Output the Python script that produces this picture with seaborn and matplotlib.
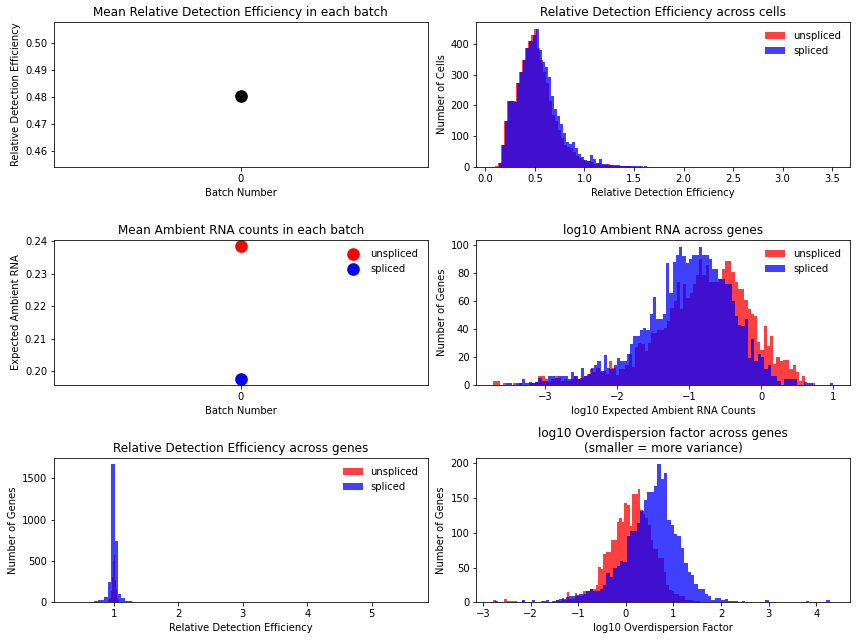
import numpy as np
import pandas as pd
import matplotlib
matplotlib.use("Agg")
import matplotlib.pyplot as plt
import seaborn as sns

# ---- batch means ----
batch_ids = [0]
batch_detection_eff = [0.4805]
batch_ambient_unspliced = [0.2385]
batch_ambient_spliced = [0.1975]

# ---- histograms: left edge of first bin, bin width, counts per bin ----
# relative detection efficiency across cells
cell_u_start, cell_u_width = 0.0945, 0.0305
cell_u = [3, 13, 70, 149, 214, 214, 214, 274, 309, 348, 387, 410, 429, 448, 387,
          348, 309, 274, 214, 170, 149, 120, 95, 72, 66, 62, 48, 36, 28, 22, 18,
          20, 15, 10, 13, 8, 6, 9, 5, 4, 3, 3, 2, 2, 2, 1, 1, 1, 2, 1, 0, 1]
cell_s_start, cell_s_width = 0.14, 0.0305
cell_s = [13, 70, 149, 214, 214, 212, 274, 309, 348, 387, 410, 429, 448, 380, 341,
          323, 293, 230, 189, 165, 141, 111, 80, 74, 80, 61, 41, 33, 22, 20, 38,
          26, 13, 27, 9, 9, 8, 8, 6, 5, 4, 4, 3, 2, 2, 2, 2, 1, 2, 1, 1, 1]

# log10 ambient RNA across genes
amb_u_start, amb_u_width = -3.72, 0.0447
amb_u = [3, 3, 0, 1, 0, 0, 1, 0, 1, 0,
         0, 1, 1, 2, 6, 6, 4, 2, 4, 6,
         5, 3, 4, 3, 4, 6, 4, 5, 6, 8,
         11, 9, 12, 9, 10, 8, 17, 12, 7, 11,
         11, 14, 22, 13, 27, 30, 29, 24, 30, 37,
         37, 39, 39, 41, 46, 55, 60, 74, 54, 72,
         62, 66, 72, 79, 90, 79, 86, 74, 74, 74,
         76, 83, 89, 89, 81, 74, 69, 69, 61, 54,
         51, 49, 31, 25, 42, 28, 35, 15, 20, 17,
         18, 18, 11, 14, 9, 3, 6, 0, 0, 1]
amb_s_start, amb_s_width = -3.55, 0.0455
amb_s = [1, 1, 0, 1, 1, 4, 1, 2, 1, 2,
         5, 3, 3, 6, 6, 5, 6, 6, 6, 4,
         9, 6, 4, 12, 6, 8, 12, 14, 17, 10,
         21, 12, 11, 14, 19, 17, 17, 22, 29, 35,
         35, 39, 41, 39, 51, 63, 47, 47, 51, 87,
         66, 88, 93, 99, 92, 87, 90, 93, 93, 99,
         93, 93, 90, 83, 83, 76, 76, 72, 72, 60,
         49, 43, 42, 47, 19, 33, 17, 22, 20, 11,
         14, 6, 6, 3, 0, 4, 4, 4, 4, 0,
         0, 2, 1, 1, 0, 0, 0, 0, 0, 1]

# relative detection efficiency across genes
gene_u_start, gene_u_width = 0.91, 0.0085
gene_u = [25, 30, 40, 60, 90, 140, 220, 310, 400, 500, 810, 570, 420, 270, 160,
          95, 60, 40, 25, 15]
gene_s_start, gene_s_width = 0.32, 0.0528
gene_s = [0, 0, 0, 0, 0, 0, 12, 16, 28, 28, 69, 250, 1670, 745, 101, 53, 16, 14,
          12, 12, 10, 10, 10]

# log10 overdispersion across genes
od_u_start, od_u_width = -2.78, 0.055
od_u = [3, 1, 1, 0, 5, 2, 2, 2, 2, 1,
        1, 2, 1, 0, 1, 1, 1, 1, 2, 1,
        1, 0, 1, 1, 4, 2, 6, 4, 15, 5,
        5, 14, 9, 9, 17, 17, 17, 19, 19, 25,
        51, 48, 70, 73, 73, 90, 90, 116, 121, 115,
        143, 140, 110, 155, 155, 163, 132, 127, 121, 111,
        90, 76, 76, 64, 64, 44, 25, 18, 16, 12,
        12, 10, 10, 4, 4, 4, 2, 2, 2, 1,
        1, 0, 1, 1, 1, 0, 1, 1, 0, 1,
        1, 0, 1, 0, 1, 0, 1, 1]
od_s_start, od_s_width = -2.75, 0.071
od_s = [2, 1, 1, 1, 0, 1, 1, 1, 4, 1,
        1, 4, 1, 1, 2, 4, 1, 2, 3, 5,
        5, 8, 10, 10, 11, 12, 12, 16, 19, 16,
        16, 19, 25, 42, 37, 49, 52, 59, 58, 95,
        102, 102, 114, 131, 147, 159, 159, 167, 198, 177,
        186, 119, 111, 98, 95, 78, 56, 44, 40, 27,
        19, 19, 12, 9, 4, 7, 7, 3, 5, 2,
        2, 2, 1, 2, 1, 0, 1, 1, 0, 1,
        4, 0, 0, 1, 0, 0, 0, 0, 0, 0,
        0, 0, 2, 0, 0, 0, 0, 0, 3, 1]


def hist_counts(ax, start, width, counts, color, label):
    '''draw a pre-binned histogram with seaborn'''
    edges = start + width * np.arange(len(counts) + 1)
    df = pd.DataFrame({'x': (edges[:-1] + edges[1:]) / 2,
                       'n': np.asarray(counts, dtype=float)})
    sns.histplot(data=df, x='x', weights='n', bins=edges.tolist(), color=color,
                 alpha=0.75, linewidth=0, edgecolor='none', label=label, ax=ax)


fig, axes = plt.subplots(3, 2, figsize=(856 / 72, 640 / 72), dpi=72)
fig.subplots_adjust(left=0.0631, right=0.993, top=0.9656, bottom=0.0586,
                    wspace=0.131, hspace=0.502)

# mean detection efficiency per batch
ax = axes[0, 0]
sns.scatterplot(x=batch_ids, y=batch_detection_eff, color='k', s=160,
                linewidth=0, ax=ax)
ax.set_xlim(-0.055, 0.055)
ax.set_ylim(0.4542, 0.5077)
ax.set_xticks(batch_ids)
ax.set_title('Mean Relative Detection Efficiency in each batch')
ax.set_xlabel('Batch Number')
ax.set_ylabel('Relative Detection Efficiency')

# detection efficiency across cells
ax = axes[0, 1]
hist_counts(ax, cell_u_start, cell_u_width, cell_u, 'red', 'unspliced')
hist_counts(ax, cell_s_start, cell_s_width, cell_s, 'blue', 'spliced')
ax.set_xlim(-0.09, 3.68)
ax.set_title('Relative Detection Efficiency across cells')
ax.set_xlabel('Relative Detection Efficiency')
ax.set_ylabel('Number of Cells')
ax.legend(frameon=False, loc='upper right')

# mean ambient per batch
ax = axes[1, 0]
sns.scatterplot(x=batch_ids, y=batch_ambient_unspliced, color='red', s=160,
                linewidth=0, label='unspliced', ax=ax)
sns.scatterplot(x=batch_ids, y=batch_ambient_spliced, color='blue', s=160,
                linewidth=0, label='spliced', ax=ax)
ax.set_xlim(-0.055, 0.055)
ax.set_ylim(0.1958, 0.2404)
ax.set_xticks(batch_ids)
ax.set_title('Mean Ambient RNA counts in each batch')
ax.set_xlabel('Batch Number')
ax.set_ylabel('Expected Ambient RNA')
ax.legend(frameon=False, loc='upper right')

# ambient across genes
ax = axes[1, 1]
hist_counts(ax, amb_u_start, amb_u_width, amb_u, 'red', 'unspliced')
hist_counts(ax, amb_s_start, amb_s_width, amb_s, 'blue', 'spliced')
ax.set_title('log10 Ambient RNA across genes')
ax.set_xlabel('log10 Expected Ambient RNA Counts')
ax.set_ylabel('Number of Genes')
ax.legend(frameon=False, loc='upper right')

# detection efficiency across genes
ax = axes[2, 0]
hist_counts(ax, gene_u_start, gene_u_width, gene_u, 'red', 'unspliced')
hist_counts(ax, gene_s_start, gene_s_width, gene_s, 'blue', 'spliced')
ax.set_xlim(0.066, 5.87)
ax.set_title('Relative Detection Efficiency across genes')
ax.set_xlabel('Relative Detection Efficiency')
ax.set_ylabel('Number of Genes')
ax.legend(frameon=False, loc='upper right')

# overdispersion across genes
ax = axes[2, 1]
hist_counts(ax, od_u_start, od_u_width, od_u, 'red', 'unspliced')
hist_counts(ax, od_s_start, od_s_width, od_s, 'blue', 'spliced')
ax.set_title('log10 Overdispersion factor across genes\n(smaller = more variance)')
ax.set_xlabel('log10 Overdispersion Factor')
ax.set_ylabel('Number of Genes')

fig.savefig('out.png', dpi=72)
